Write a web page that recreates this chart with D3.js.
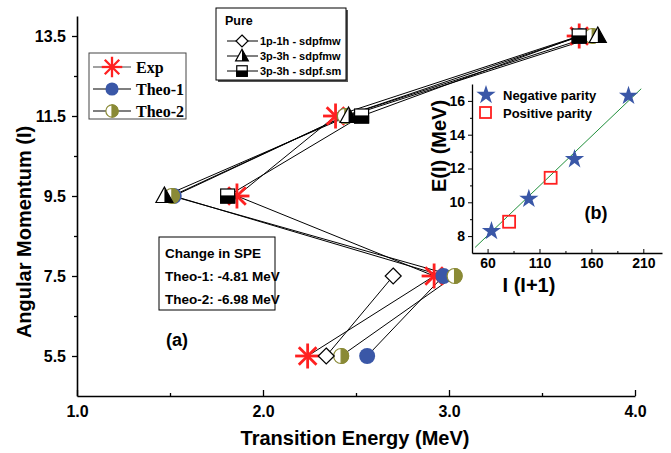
<!DOCTYPE html>
<html>
<head>
<meta charset="utf-8">
<script src="https://cdn.jsdelivr.net/npm/d3@7"></script>
<style>
	body { margin: 0; background: #fff; }
	svg { display: block; font-family: "Liberation Sans", Arial, sans-serif; }
</style>
</head>
<body>
<div id="chart"></div>
<script>

////////////////////
// data          ///
////////////////////

// main panel (a): angular momentum vs transition energy
var levels = [13.5, 11.5, 9.5, 7.5, 5.5];
var expE = [3.70, 2.39, 1.86, 2.92, 2.24];
var theo1E = [3.71, 2.44, 1.52, 2.97, 2.56];
var theo2E = [3.77, 2.44, 1.51, 3.03, 2.42];

var pure1p1hI = [7.5, 5.5];
var pure1p1hE = [2.70, 2.34];
var pure3p3hMwI = [13.5, 11.5, 9.5];
var pure3p3hMwE = [3.80, 2.46, 1.47];
var pure3p3hSmI = [13.5, 11.5, 9.5];
var pure3p3hSmE = [3.70, 2.53, 1.81];

var xTicks = [1.0, 2.0, 3.0, 4.0];
var xMinor = [1.5, 2.5, 3.5];
var yTicks = [5.5, 7.5, 9.5, 11.5, 13.5];
var yMinor = [6.5, 8.5, 10.5, 12.5];

var speLines = ["Change in SPE", "Theo-1: -4.81 MeV", "Theo-2: -6.98 MeV"];

// inset (b): E(I) vs I(I+1)
var negIsq = [63.75, 99.75, 143.75, 195.75];
var negE = [8.3, 10.2, 12.55, 16.3];
var posIsq = [80.75, 120.75];
var posE = [8.85, 11.45];
var fitIsq = [48, 208];
var fitE = [7.33, 16.72];

var bxTicks = [60, 110, 160, 210];
var bxMinor = [85, 135, 185];
var byTicks = [8, 10, 12, 14, 16];
var byMinor = [9, 11, 13, 15];

////////////////////
// chart         ///
////////////////////

function chart() {
	var w = 671, h = 453;
	var red = "#ff2020", blue = "#3a57a7", olive = "#8a8a36";

	var svg = d3.select("#chart").append("svg")
		.attr("width", w)
		.attr("height", h);

	var x = d3.scaleLinear().domain([1, 4]).range([77, 635]);
	var y = d3.scaleLinear().domain([4.5, 14]).range([396, 16]);

	//Axes
	var gy = svg.append("g")
		.attr("transform", "translate(77,0)")
		.call(d3.axisLeft(y).tickValues(yTicks).tickFormat(d3.format(".1f"))
			.tickSize(5).tickPadding(6).tickSizeOuter(0));
	svg.append("g")
		.attr("transform", "translate(77,0)")
		.call(d3.axisLeft(y).tickValues(yMinor).tickFormat("").tickSize(3).tickSizeOuter(0))
		.select(".domain").remove();

	var gx = svg.append("g")
		.attr("transform", "translate(0,396)")
		.call(d3.axisBottom(x).tickValues(xTicks).tickFormat(d3.format(".1f"))
			.tickSize(-6).tickPadding(10).tickSizeOuter(0));
	svg.append("g")
		.attr("transform", "translate(0,396)")
		.call(d3.axisBottom(x).tickValues(xMinor).tickFormat("").tickSize(-3).tickSizeOuter(0))
		.select(".domain").remove();

	svg.selectAll(".domain").attr("stroke-width", 1.6);
	svg.selectAll(".tick line").attr("stroke-width", 1.3);
	[gx, gy].forEach(function (g) {
		g.selectAll("text")
			.attr("font-family", "Liberation Sans, Arial, sans-serif")
			.attr("font-size", 16)
			.attr("font-weight", "bold")
			.attr("fill", "#000");
	});

	svg.append("text")
		.attr("x", 355).attr("y", 445)
		.attr("text-anchor", "middle")
		.attr("font-size", 20).attr("font-weight", "bold")
		.text("Transition Energy (MeV)");

	svg.append("text")
		.attr("transform", "translate(31,232) rotate(-90)")
		.attr("text-anchor", "middle")
		.attr("font-size", 20).attr("font-weight", "bold")
		.text("Angular Momentum (I)");

	//Series
	var series = [
		{ type: "exp", I: levels, E: expE },
		{ type: "theo1", I: levels, E: theo1E },
		{ type: "theo2", I: levels, E: theo2E },
		{ type: "diamond", I: pure1p1hI, E: pure1p1hE },
		{ type: "tri", I: pure3p3hMwI, E: pure3p3hMwE },
		{ type: "sq", I: pure3p3hSmI, E: pure3p3hSmE }
	];

	var line = d3.line()
		.x(function (d) { return x(d[0]); })
		.y(function (d) { return y(d[1]); });

	series.forEach(function (s) {
		var pts = s.E.map(function (e, i) { return [e, s.I[i]]; });
		s.pts = pts;
		svg.append("path")
			.attr("d", line(pts))
			.attr("fill", "none")
			.attr("stroke", "#000")
			.attr("stroke-width", 1);
	});

	series.forEach(function (s) {
		s.pts.forEach(function (p) {
			var g = svg.append("g").attr("transform", "translate(" + x(p[0]) + "," + y(p[1]) + ")");
			marker(g, s.type, 1);
		});
	});

	//Draw one marker at the origin of g
	function marker(g, type, k) {
		var r;
		if (type === "exp") {
			r = 12.5 * k;
			[0, 45, 90, 135].forEach(function (a) {
				var c = Math.cos(a * Math.PI / 180) * r, sn = Math.sin(a * Math.PI / 180) * r;
				g.append("line")
					.attr("x1", -c).attr("y1", -sn).attr("x2", c).attr("y2", sn)
					.attr("stroke", red).attr("stroke-width", 2.8 * k);
			});
		} else if (type === "theo1") {
			g.append("circle").attr("r", 8 * k).attr("fill", blue);
		} else if (type === "theo2") {
			r = 7.5 * k;
			g.append("circle").attr("r", r).attr("fill", "#fff").attr("stroke", olive).attr("stroke-width", 1.2);
			g.append("path")
				.attr("d", "M0," + (-r) + "A" + r + "," + r + " 0 0 1 0," + r + "Z")
				.attr("fill", olive).attr("stroke", olive).attr("stroke-width", 1.2);
		} else if (type === "diamond") {
			r = 8 * k;
			g.append("path")
				.attr("d", "M0," + (-r) + "L" + r + ",0L0," + r + "L" + (-r) + ",0Z")
				.attr("fill", "#fff").attr("stroke", "#000").attr("stroke-width", 1.2);
		} else if (type === "tri") {
			var hw = 8.5 * k, top = -9 * k, bot = 6.5 * k;
			g.append("path")
				.attr("d", "M0," + top + "L" + hw + "," + bot + "L" + (-hw) + "," + bot + "Z")
				.attr("fill", "#fff").attr("stroke", "#000").attr("stroke-width", 1.2);
			g.append("path")
				.attr("d", "M0," + top + "L" + hw + "," + bot + "L0," + bot + "Z")
				.attr("fill", "#000");
		} else if (type === "sq") {
			r = 7 * k;
			g.append("rect").attr("x", -r).attr("y", -r).attr("width", 2 * r).attr("height", 2 * r)
				.attr("fill", "#fff").attr("stroke", "#000").attr("stroke-width", 1.2);
			g.append("rect").attr("x", -r).attr("y", 0).attr("width", 2 * r).attr("height", r)
				.attr("fill", "#000").attr("stroke", "#000").attr("stroke-width", 1.2);
		}
	}

	//Legend: Exp / Theo
	var leg1 = svg.append("g").attr("transform", "translate(89,53)");
	leg1.append("rect").attr("width", 97).attr("height", 66)
		.attr("fill", "#fff").attr("stroke", "#444").attr("stroke-width", 1);
	[["exp", "Exp"], ["theo1", "Theo-1"], ["theo2", "Theo-2"]].forEach(function (d, i) {
		var yy = 14 + i * 22;
		leg1.append("line").attr("x1", 4).attr("x2", 42).attr("y1", yy).attr("y2", yy)
			.attr("stroke", i === 0 ? "#444" : "#000").attr("stroke-width", 1.2);
		marker(leg1.append("g").attr("transform", "translate(23," + yy + ")"), d[0], 0.82);
		leg1.append("text").attr("x", 47).attr("y", yy + 6)
			.attr("font-family", "Liberation Serif, Times New Roman, serif")
			.attr("font-size", 16).attr("font-weight", "bold")
			.text(d[1]);
	});

	//Legend: Pure
	var leg2 = svg.append("g").attr("transform", "translate(216,8)");
	leg2.append("rect").attr("x", 2).attr("y", 2).attr("width", 130).attr("height", 72).attr("fill", "#555");
	leg2.append("rect").attr("width", 130).attr("height", 72)
		.attr("fill", "#fff").attr("stroke", "#000").attr("stroke-width", 1);
	leg2.append("text").attr("x", 9).attr("y", 17)
		.attr("font-size", 12.5).attr("font-weight", "bold").text("Pure");
	[["diamond", "1p-1h - sdpfmw"], ["tri", "3p-3h - sdpfmw"], ["sq", "3p-3h - sdpf.sm"]].forEach(function (d, i) {
		var yy = 33 + i * 15;
		leg2.append("line").attr("x1", 11).attr("x2", 42).attr("y1", yy).attr("y2", yy)
			.attr("stroke", "#000").attr("stroke-width", 1);
		marker(leg2.append("g").attr("transform", "translate(26," + yy + ")"), d[0], 0.75);
		leg2.append("text").attr("x", 44).attr("y", yy + 4)
			.attr("font-size", 11).attr("font-weight", "bold")
			.text(d[1]);
	});

	//Change in SPE box
	var box = svg.append("g").attr("transform", "translate(159,237)");
	box.append("rect").attr("width", 116).attr("height", 73)
		.attr("fill", "#fff").attr("stroke", "#000").attr("stroke-width", 1);
	speLines.forEach(function (t, i) {
		box.append("text").attr("x", 6).attr("y", 21 + i * 23)
			.attr("font-size", 13.5).attr("font-weight", "bold").text(t);
	});

	svg.append("text").attr("x", 177).attr("y", 346)
		.attr("text-anchor", "middle")
		.attr("font-size", 18).attr("font-weight", "bold").text("(a)");

	////////////////////
	// inset (b)    ///
	////////////////////

	var xb = d3.scaleLinear().domain([45, 228]).range([472, 662]);
	var yb = d3.scaleLinear().domain([7, 17]).range([253, 84]);

	var gby = svg.append("g")
		.attr("transform", "translate(472,0)")
		.call(d3.axisLeft(yb).tickValues(byTicks).tickSize(4).tickPadding(3).tickSizeOuter(0));
	svg.append("g")
		.attr("transform", "translate(472,0)")
		.call(d3.axisLeft(yb).tickValues(byMinor).tickFormat("").tickSize(2).tickSizeOuter(0))
		.select(".domain").remove();
	var gbx = svg.append("g")
		.attr("transform", "translate(0,253)")
		.call(d3.axisBottom(xb).tickValues(bxTicks).tickSize(-4).tickPadding(5).tickSizeOuter(0));
	svg.append("g")
		.attr("transform", "translate(0,253)")
		.call(d3.axisBottom(xb).tickValues(bxMinor).tickFormat("").tickSize(-2).tickSizeOuter(0))
		.select(".domain").remove();

	[gbx, gby].forEach(function (g) {
		g.select(".domain").attr("stroke-width", 1.3);
		g.selectAll("text")
			.attr("font-family", "Liberation Sans, Arial, sans-serif")
			.attr("font-size", 14)
			.attr("font-weight", "bold")
			.attr("fill", "#000");
	});

	svg.append("text")
		.attr("transform", "translate(446,146) rotate(-90)")
		.attr("text-anchor", "middle")
		.attr("font-size", 20).attr("font-weight", "bold")
		.text("E(I) (MeV)");
	svg.append("text")
		.attr("x", 529).attr("y", 292)
		.attr("text-anchor", "middle")
		.attr("font-size", 20).attr("font-weight", "bold")
		.text("I (I+1)");

	//Fit line
	svg.append("line")
		.attr("x1", xb(fitIsq[0])).attr("y1", yb(fitE[0]))
		.attr("x2", xb(fitIsq[1])).attr("y2", yb(fitE[1]))
		.attr("stroke", "#1f8f3a").attr("stroke-width", 1);

	var star = d3.symbol().type(d3.symbolStar).size(115);

	svg.selectAll(".pos")
		.data(posIsq)
		.enter()
		.append("rect")
		.attr("x", function (d) { return xb(d) - 6; })
		.attr("y", function (d, i) { return yb(posE[i]) - 6; })
		.attr("width", 12).attr("height", 12)
		.attr("fill", "none").attr("stroke", red).attr("stroke-width", 1.8);

	svg.selectAll(".neg")
		.data(negIsq)
		.enter()
		.append("path")
		.attr("d", star)
		.attr("transform", function (d, i) { return "translate(" + xb(d) + "," + yb(negE[i]) + ")"; })
		.attr("fill", blue);

	//Inset legend
	svg.append("path").attr("d", star).attr("transform", "translate(486,95)").attr("fill", blue);
	svg.append("rect").attr("x", 480).attr("y", 107).attr("width", 11).attr("height", 11)
		.attr("fill", "none").attr("stroke", red).attr("stroke-width", 1.8);
	svg.append("text").attr("x", 503).attr("y", 100)
		.attr("font-size", 13).attr("font-weight", "bold").text("Negative parity");
	svg.append("text").attr("x", 503).attr("y", 118)
		.attr("font-size", 13).attr("font-weight", "bold").text("Positive parity");

	svg.append("text").attr("x", 596).attr("y", 219)
		.attr("text-anchor", "middle")
		.attr("font-size", 18).attr("font-weight", "bold").text("(b)");
}

chart();
</script>
</body>
</html>
